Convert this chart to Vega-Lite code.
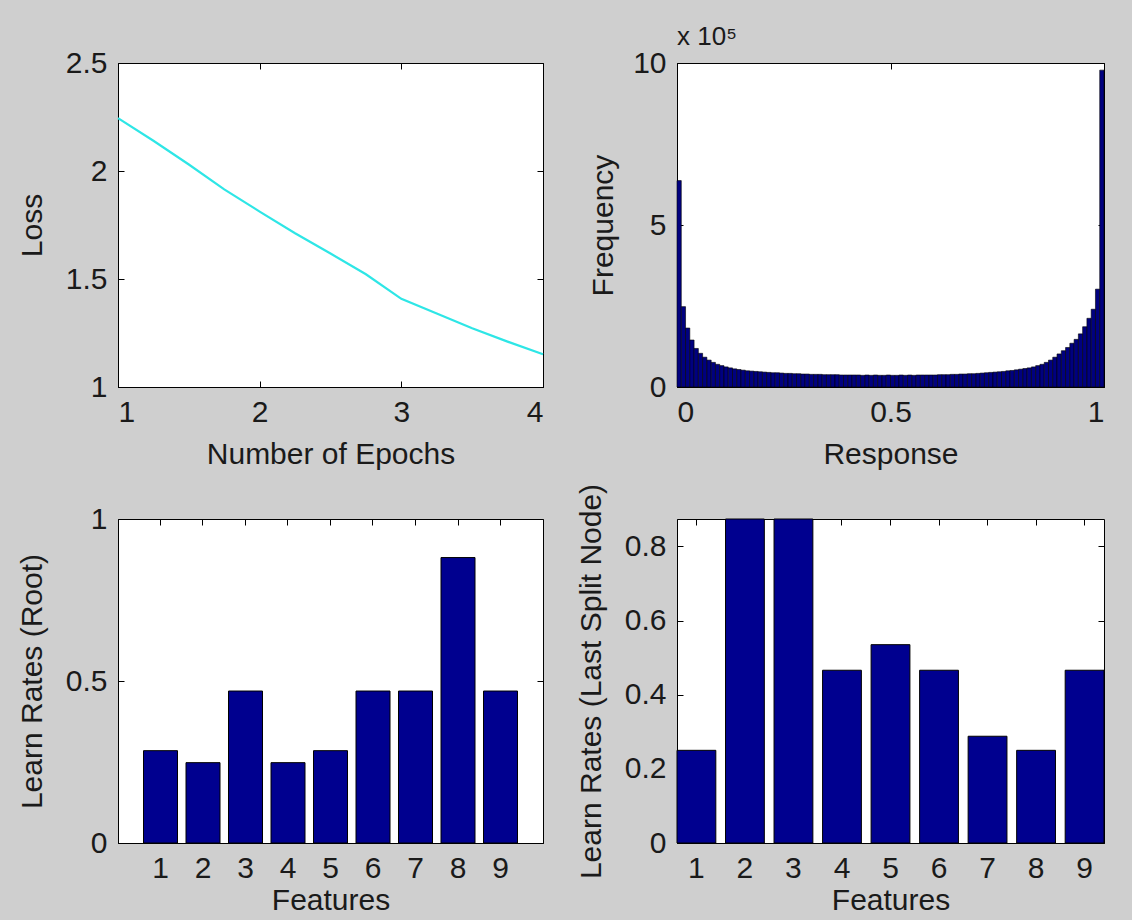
{
  "$schema": "https://vega.github.io/schema/vega-lite/v6.json",
  "background": "#cfcfcf",
  "padding": {"left": 16, "top": 23, "right": 27, "bottom": 4},
  "columns": 2,
  "bounds": "flush",
  "spacing": {"row": 132, "column": 134},
  "config": {
    "view": {"fill": "white", "stroke": "black", "strokeWidth": 1},
    "font": "Liberation Sans",
    "axis": {
      "grid": false,
      "domainColor": "black",
      "tickColor": "black",
      "tickSize": -6,
      "labelPadding": 17,
      "labelFont": "Liberation Sans",
      "labelFontSize": 30,
      "labelColor": "#1a1a1a",
      "titleFont": "Liberation Sans",
      "titleFontSize": 30,
      "titleFontWeight": "normal",
      "titleColor": "#1a1a1a",
      "labelAngle": 0,
      "format": "~g"
    },
    "axisLeft": {"minExtent": 52, "maxExtent": 52, "titlePadding": 19},
    "axisBottom": {"minExtent": 36, "maxExtent": 36, "titlePadding": 16, "labelPadding": 16},
    "axisTop": {"minExtent": 0, "maxExtent": 0, "labels": false, "domain": false},
    "axisRight": {"minExtent": 0, "maxExtent": 0, "labels": false, "domain": false},
    "title": {"font": "Liberation Sans", "fontSize": 26, "fontWeight": "normal", "color": "#1a1a1a"}
  },
  "concat": [
    {
      "width": 425,
      "height": 324,
      "data": {"values": [
        {"epoch": 1, "loss": 2.245},
        {"epoch": 1.25, "loss": 2.14},
        {"epoch": 1.5, "loss": 2.03},
        {"epoch": 1.75, "loss": 1.915},
        {"epoch": 2, "loss": 1.812},
        {"epoch": 2.25, "loss": 1.712},
        {"epoch": 2.5, "loss": 1.618},
        {"epoch": 2.75, "loss": 1.522},
        {"epoch": 3, "loss": 1.408},
        {"epoch": 3.25, "loss": 1.34},
        {"epoch": 3.5, "loss": 1.272},
        {"epoch": 3.75, "loss": 1.21},
        {"epoch": 4, "loss": 1.152}
      ]},
      "layer": [
        {
          "mark": {"type": "line", "color": "#2ee6e6", "strokeWidth": 2.2},
          "encoding": {
            "x": {"field": "epoch", "type": "quantitative", "scale": {"domain": [1, 4], "nice": false, "zero": false}, "axis": {"values": [1, 2, 3, 4], "title": "Number of Epochs"}},
            "y": {"field": "loss", "type": "quantitative", "scale": {"domain": [1, 2.5], "nice": false, "zero": false}, "axis": {"values": [1, 1.5, 2, 2.5], "title": "Loss"}}
          }
        },
        {
          "mark": {"type": "line", "opacity": 0},
          "encoding": {
            "x": {"field": "epoch", "type": "quantitative", "scale": {"domain": [1, 4], "nice": false, "zero": false}, "axis": {"orient": "top", "values": [1, 2, 3, 4], "title": null}},
            "y": {"field": "loss", "type": "quantitative", "scale": {"domain": [1, 2.5], "nice": false, "zero": false}, "axis": {"orient": "right", "values": [1, 1.5, 2, 2.5], "title": null}}
          }
        }
      ],
      "resolve": {"axis": {"x": "independent", "y": "independent"}}
    },
    {
      "width": 427,
      "height": 324,
      "title": {"text": "x 10⁵", "anchor": "start", "frame": "group", "dx": 0, "offset": -2},
      "data": {"values": [
        {"lo": 0.00, "hi": 0.01, "count": 637000},
        {"lo": 0.01, "hi": 0.02, "count": 248000},
        {"lo": 0.02, "hi": 0.03, "count": 182000},
        {"lo": 0.03, "hi": 0.04, "count": 145000},
        {"lo": 0.04, "hi": 0.05, "count": 119000},
        {"lo": 0.05, "hi": 0.06, "count": 104000},
        {"lo": 0.06, "hi": 0.07, "count": 92000},
        {"lo": 0.07, "hi": 0.08, "count": 83000},
        {"lo": 0.08, "hi": 0.09, "count": 76000},
        {"lo": 0.09, "hi": 0.10, "count": 70000},
        {"lo": 0.10, "hi": 0.11, "count": 66000},
        {"lo": 0.11, "hi": 0.12, "count": 62000},
        {"lo": 0.12, "hi": 0.13, "count": 59000},
        {"lo": 0.13, "hi": 0.14, "count": 56000},
        {"lo": 0.14, "hi": 0.15, "count": 54000},
        {"lo": 0.15, "hi": 0.16, "count": 52000},
        {"lo": 0.16, "hi": 0.17, "count": 50000},
        {"lo": 0.17, "hi": 0.18, "count": 49000},
        {"lo": 0.18, "hi": 0.19, "count": 48000},
        {"lo": 0.19, "hi": 0.20, "count": 47000},
        {"lo": 0.20, "hi": 0.21, "count": 46000},
        {"lo": 0.21, "hi": 0.22, "count": 45000},
        {"lo": 0.22, "hi": 0.23, "count": 44000},
        {"lo": 0.23, "hi": 0.24, "count": 44000},
        {"lo": 0.24, "hi": 0.25, "count": 43000},
        {"lo": 0.25, "hi": 0.26, "count": 42000},
        {"lo": 0.26, "hi": 0.27, "count": 42000},
        {"lo": 0.27, "hi": 0.28, "count": 41000},
        {"lo": 0.28, "hi": 0.29, "count": 41000},
        {"lo": 0.29, "hi": 0.30, "count": 40000},
        {"lo": 0.30, "hi": 0.31, "count": 40000},
        {"lo": 0.31, "hi": 0.32, "count": 39000},
        {"lo": 0.32, "hi": 0.33, "count": 39000},
        {"lo": 0.33, "hi": 0.34, "count": 39000},
        {"lo": 0.34, "hi": 0.35, "count": 38000},
        {"lo": 0.35, "hi": 0.36, "count": 38000},
        {"lo": 0.36, "hi": 0.37, "count": 38000},
        {"lo": 0.37, "hi": 0.38, "count": 38000},
        {"lo": 0.38, "hi": 0.39, "count": 37000},
        {"lo": 0.39, "hi": 0.40, "count": 37000},
        {"lo": 0.40, "hi": 0.41, "count": 37000},
        {"lo": 0.41, "hi": 0.42, "count": 37000},
        {"lo": 0.42, "hi": 0.43, "count": 37000},
        {"lo": 0.43, "hi": 0.44, "count": 36000},
        {"lo": 0.44, "hi": 0.45, "count": 37000},
        {"lo": 0.45, "hi": 0.46, "count": 36000},
        {"lo": 0.46, "hi": 0.47, "count": 37000},
        {"lo": 0.47, "hi": 0.48, "count": 36000},
        {"lo": 0.48, "hi": 0.49, "count": 36000},
        {"lo": 0.49, "hi": 0.50, "count": 37000},
        {"lo": 0.50, "hi": 0.51, "count": 36000},
        {"lo": 0.51, "hi": 0.52, "count": 36000},
        {"lo": 0.52, "hi": 0.53, "count": 37000},
        {"lo": 0.53, "hi": 0.54, "count": 36000},
        {"lo": 0.54, "hi": 0.55, "count": 37000},
        {"lo": 0.55, "hi": 0.56, "count": 36000},
        {"lo": 0.56, "hi": 0.57, "count": 37000},
        {"lo": 0.57, "hi": 0.58, "count": 37000},
        {"lo": 0.58, "hi": 0.59, "count": 37000},
        {"lo": 0.59, "hi": 0.60, "count": 37000},
        {"lo": 0.60, "hi": 0.61, "count": 37000},
        {"lo": 0.61, "hi": 0.62, "count": 38000},
        {"lo": 0.62, "hi": 0.63, "count": 38000},
        {"lo": 0.63, "hi": 0.64, "count": 38000},
        {"lo": 0.64, "hi": 0.65, "count": 39000},
        {"lo": 0.65, "hi": 0.66, "count": 39000},
        {"lo": 0.66, "hi": 0.67, "count": 40000},
        {"lo": 0.67, "hi": 0.68, "count": 40000},
        {"lo": 0.68, "hi": 0.69, "count": 41000},
        {"lo": 0.69, "hi": 0.70, "count": 41000},
        {"lo": 0.70, "hi": 0.71, "count": 42000},
        {"lo": 0.71, "hi": 0.72, "count": 43000},
        {"lo": 0.72, "hi": 0.73, "count": 44000},
        {"lo": 0.73, "hi": 0.74, "count": 45000},
        {"lo": 0.74, "hi": 0.75, "count": 46000},
        {"lo": 0.75, "hi": 0.76, "count": 47000},
        {"lo": 0.76, "hi": 0.77, "count": 48000},
        {"lo": 0.77, "hi": 0.78, "count": 50000},
        {"lo": 0.78, "hi": 0.79, "count": 51000},
        {"lo": 0.79, "hi": 0.80, "count": 53000},
        {"lo": 0.80, "hi": 0.81, "count": 55000},
        {"lo": 0.81, "hi": 0.82, "count": 57000},
        {"lo": 0.82, "hi": 0.83, "count": 59000},
        {"lo": 0.83, "hi": 0.84, "count": 62000},
        {"lo": 0.84, "hi": 0.85, "count": 66000},
        {"lo": 0.85, "hi": 0.86, "count": 70000},
        {"lo": 0.86, "hi": 0.87, "count": 76000},
        {"lo": 0.87, "hi": 0.88, "count": 83000},
        {"lo": 0.88, "hi": 0.89, "count": 92000},
        {"lo": 0.89, "hi": 0.90, "count": 102000},
        {"lo": 0.90, "hi": 0.91, "count": 112000},
        {"lo": 0.91, "hi": 0.92, "count": 122000},
        {"lo": 0.92, "hi": 0.93, "count": 135000},
        {"lo": 0.93, "hi": 0.94, "count": 147000},
        {"lo": 0.94, "hi": 0.95, "count": 164000},
        {"lo": 0.95, "hi": 0.96, "count": 186000},
        {"lo": 0.96, "hi": 0.97, "count": 212000},
        {"lo": 0.97, "hi": 0.98, "count": 240000},
        {"lo": 0.98, "hi": 0.99, "count": 302000},
        {"lo": 0.99, "hi": 1.00, "count": 978000}
      ]},
      "layer": [
        {
          "mark": {"type": "bar", "color": "#000080", "stroke": "black", "strokeWidth": 0.6},
          "encoding": {
            "x": {"field": "lo", "type": "quantitative", "scale": {"domain": [0, 1], "nice": false}, "axis": {"values": [0, 0.5, 1], "title": "Response"}},
            "x2": {"field": "hi"},
            "y": {"field": "count", "type": "quantitative", "scale": {"domain": [0, 1000000], "nice": false}, "axis": {"values": [0, 500000, 1000000], "labelExpr": "datum.value / 100000", "title": "Frequency", "titlePadding": 7}},
            "y2": {"datum": 0}
          }
        },
        {
          "mark": {"type": "bar", "opacity": 0},
          "encoding": {
            "x": {"field": "lo", "type": "quantitative", "scale": {"domain": [0, 1], "nice": false}, "axis": {"orient": "top", "values": [0, 0.5, 1], "title": null}},
            "x2": {"field": "hi"},
            "y": {"field": "count", "type": "quantitative", "scale": {"domain": [0, 1000000], "nice": false}, "axis": {"orient": "right", "values": [0, 500000, 1000000], "title": null}},
            "y2": {"datum": 0}
          }
        }
      ],
      "resolve": {"axis": {"x": "independent", "y": "independent"}}
    },
    {
      "width": 425,
      "height": 324,
      "data": {"values": [
        {"feature": 1, "rate": 0.285},
        {"feature": 2, "rate": 0.248},
        {"feature": 3, "rate": 0.469},
        {"feature": 4, "rate": 0.248},
        {"feature": 5, "rate": 0.285},
        {"feature": 6, "rate": 0.469},
        {"feature": 7, "rate": 0.469},
        {"feature": 8, "rate": 0.881},
        {"feature": 9, "rate": 0.469}
      ]},
      "layer": [
        {
          "mark": {"type": "bar", "color": "#00008f", "stroke": "black", "strokeWidth": 1},
          "encoding": {
            "x": {"field": "feature", "type": "ordinal", "scale": {"paddingInner": 0.2, "paddingOuter": 0.6}, "axis": {"title": "Features", "titlePadding": 6}},
            "y": {"field": "rate", "type": "quantitative", "scale": {"domain": [0, 1], "nice": false}, "axis": {"values": [0, 0.5, 1], "title": "Learn Rates (Root)"}}
          }
        },
        {
          "mark": {"type": "bar", "opacity": 0},
          "encoding": {
            "x": {"field": "feature", "type": "ordinal", "scale": {"paddingInner": 0.2, "paddingOuter": 0.6}, "axis": {"orient": "top", "title": null}},
            "y": {"field": "rate", "type": "quantitative", "scale": {"domain": [0, 1], "nice": false}, "axis": {"orient": "right", "values": [0, 0.5, 1], "title": null}}
          }
        }
      ],
      "resolve": {"axis": {"x": "independent", "y": "independent"}}
    },
    {
      "width": 427,
      "height": 324,
      "data": {"values": [
        {"feature": 1, "rate": 0.25},
        {"feature": 2, "rate": 0.874},
        {"feature": 3, "rate": 0.874},
        {"feature": 4, "rate": 0.466},
        {"feature": 5, "rate": 0.535},
        {"feature": 6, "rate": 0.466},
        {"feature": 7, "rate": 0.288},
        {"feature": 8, "rate": 0.25},
        {"feature": 9, "rate": 0.466}
      ]},
      "layer": [
        {
          "mark": {"type": "bar", "color": "#00008f", "stroke": "black", "strokeWidth": 1},
          "encoding": {
            "x": {"field": "feature", "type": "ordinal", "scale": {"paddingInner": 0.2, "paddingOuter": 0}, "axis": {"title": "Features", "titlePadding": 6}},
            "y": {"field": "rate", "type": "quantitative", "scale": {"domain": [0, 0.874], "nice": false}, "axis": {"values": [0, 0.2, 0.4, 0.6, 0.8], "title": "Learn Rates (Last Split Node)"}}
          }
        },
        {
          "mark": {"type": "bar", "opacity": 0},
          "encoding": {
            "x": {"field": "feature", "type": "ordinal", "scale": {"paddingInner": 0.2, "paddingOuter": 0}, "axis": {"orient": "top", "title": null}},
            "y": {"field": "rate", "type": "quantitative", "scale": {"domain": [0, 0.874], "nice": false}, "axis": {"orient": "right", "values": [0, 0.2, 0.4, 0.6, 0.8], "title": null}}
          }
        }
      ],
      "resolve": {"axis": {"x": "independent", "y": "independent"}}
    }
  ]
}
